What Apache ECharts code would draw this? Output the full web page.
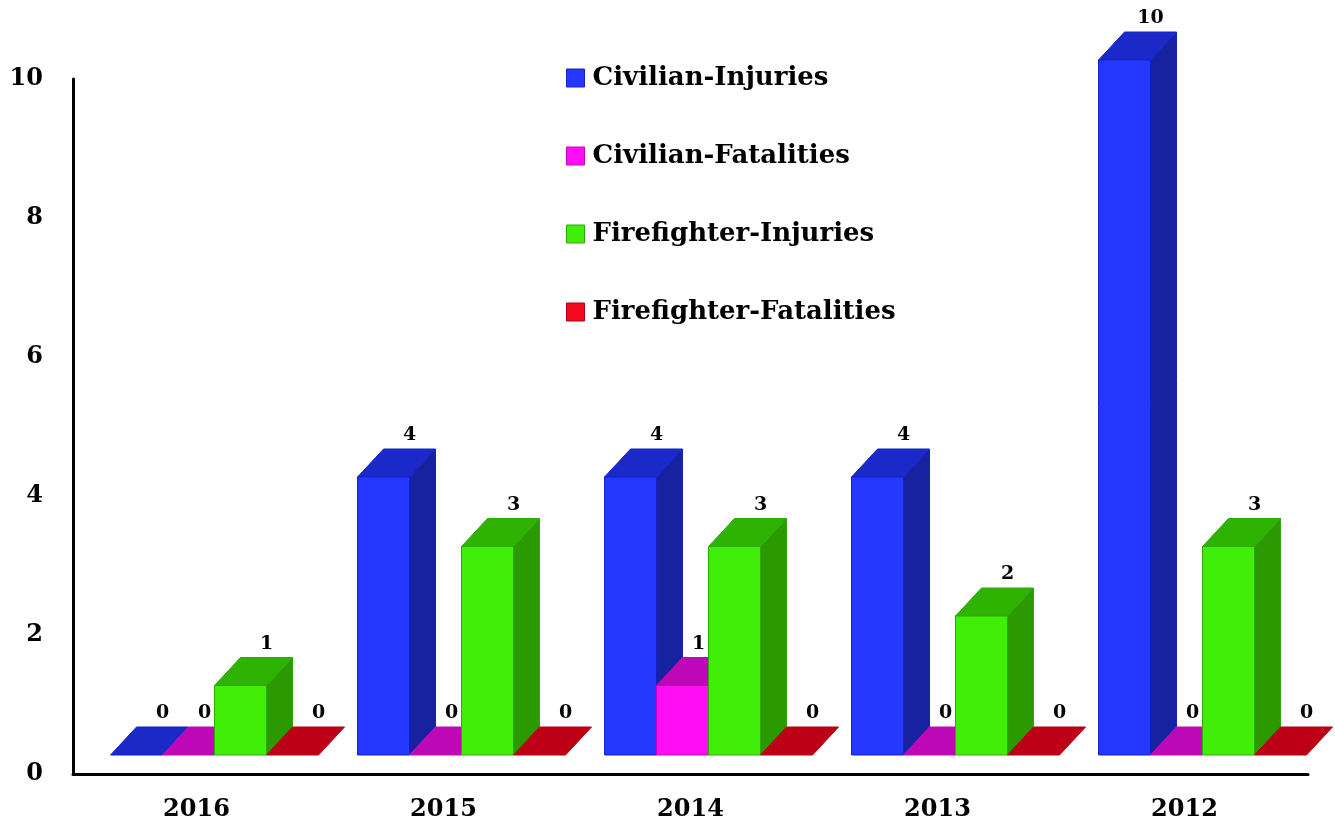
<!DOCTYPE html>
<html>
<head>
<meta charset="utf-8">
<script src="https://cdn.jsdelivr.net/npm/echarts@6/dist/echarts.min.js"></script>
<style>
  html, body { margin: 0; padding: 0; background: #fff; }
  #chart { width: 1335px; height: 826px; }
</style>
</head>
<body>
<div id="chart"></div>
<script>
var years = ['2016', '2015', '2014', '2013', '2012'];
var civilianInjuries = [0, 4, 4, 4, 10];
var civilianFatalities = [0, 0, 1, 0, 0];
var firefighterInjuries = [1, 3, 3, 2, 3];
var firefighterFatalities = [0, 0, 0, 0, 0];
var yTicks = [0, 2, 4, 6, 8, 10];

// front, top, side, edge
var palette = [
  ['#2538FF', '#1B29C8', '#1722A0', '#1322C8'],
  ['#FF0DF5', '#BE08B8', '#A8079F', '#C008B8'],
  ['#40EE08', '#2FB302', '#2A9A00', '#2FA80A'],
  ['#F00A1C', '#BE0016', '#A00012', '#B00014']
];
var labelShift = [0, -10, 0, 0];

var DX = 26, DY = 28, LIFT = 19;
var serif = '"DejaVu Serif", "Liberation Serif", serif';

function barGeom(idx, params, api) {
  var cat = api.value(0);
  var val = api.value(1);
  var band = api.size([1, 0])[0];
  var w = band * 0.2105;
  var center = api.coord([cat, 0])[0] + band * 0.073;
  var x0 = center - 2 * w + idx * w;
  return {
    val: val, x0: x0, x1: x0 + w, w: w,
    yb: api.coord([cat, 0])[1] - LIFT,
    yt: api.coord([cat, val])[1] - LIFT
  };
}

function makeBars(idx) {
  var c = palette[idx];
  return function (params, api) {
    var g = barGeom(idx, params, api);
    var st = { lineWidth: 1, stroke: c[3] };
    var children = [];
    if (g.val > 0) {
      children.push({
        type: 'polygon',
        shape: { points: [[g.x1, g.yb], [g.x1 + DX, g.yb - DY], [g.x1 + DX, g.yt - DY], [g.x1, g.yt]] },
        style: Object.assign({ fill: c[2] }, st)
      });
    }
    children.push({
      type: 'polygon',
      shape: { points: [[g.x0, g.yt], [g.x0 + DX, g.yt - DY], [g.x1 + DX, g.yt - DY], [g.x1, g.yt]] },
      style: Object.assign({ fill: c[1] }, st)
    });
    if (g.val > 0) {
      children.push({
        type: 'rect',
        shape: { x: g.x0, y: g.yt, width: g.w, height: g.yb - g.yt },
        style: Object.assign({ fill: c[0] }, st)
      });
    }
    return { type: 'group', children: children };
  };
}

function makeLabels(idx) {
  return function (params, api) {
    var g = barGeom(idx, params, api);
    return {
      type: 'text',
      style: {
        text: String(g.val),
        x: (g.x0 + g.x1) / 2 + DX + labelShift[idx],
        y: g.yt - DY - 4,
        align: 'center',
        verticalAlign: 'bottom',
        fill: '#000',
        font: 'bold 19px ' + serif
      }
    };
  };
}

var names = ['Civilian-Injuries', 'Civilian-Fatalities', 'Firefighter-Injuries', 'Firefighter-Fatalities'];
var values = [civilianInjuries, civilianFatalities, firefighterInjuries, firefighterFatalities];

var series = [];
names.forEach(function (n, i) {
  series.push({
    name: n,
    type: 'custom',
    renderItem: makeBars(i),
    itemStyle: { color: palette[i][0], borderColor: palette[i][3], borderWidth: 1 },
    encode: { x: 0, y: 1 },
    data: values[i].map(function (v, k) { return [k, v]; }),
    z: 2 + i
  });
});
names.forEach(function (n, i) {
  series.push({
    name: n,
    type: 'custom',
    renderItem: makeLabels(i),
    itemStyle: { color: palette[i][0] },
    encode: { x: 0, y: 1 },
    data: values[i].map(function (v, k) { return [k, v]; }),
    z: 20
  });
});

var chart = echarts.init(document.getElementById('chart'));
chart.setOption({
  animation: false,
  grid: { left: 73, right: 27, top: 79, bottom: 52 },
  legend: {
    orient: 'vertical',
    left: 561,
    top: 58,
    icon: 'rect',
    itemWidth: 18,
    itemHeight: 18,
    itemGap: 48,
    data: names,
    itemStyle: { borderWidth: 1 },
    textStyle: {
      fontFamily: serif,
      fontWeight: 'bold',
      fontSize: 26,
      color: '#000',
      lineHeight: 30,
      padding: [0, 0, 0, 3]
    }
  },
  xAxis: {
    type: 'category',
    data: years,
    axisLine: { lineStyle: { color: '#000', width: 3 } },
    axisTick: { show: false },
    axisLabel: {
      margin: 24,
      fontFamily: serif,
      fontWeight: 'bold',
      fontSize: 24,
      color: '#000'
    }
  },
  yAxis: {
    type: 'value',
    min: yTicks[0],
    max: yTicks[yTicks.length - 1],
    interval: 2,
    axisLine: { show: true, lineStyle: { color: '#000', width: 3 } },
    axisTick: { show: false },
    splitLine: { show: false },
    axisLabel: {
      margin: 30,
      fontFamily: serif,
      fontWeight: 'bold',
      fontSize: 24,
      color: '#000'
    }
  },
  series: series
});
</script>
</body>
</html>
